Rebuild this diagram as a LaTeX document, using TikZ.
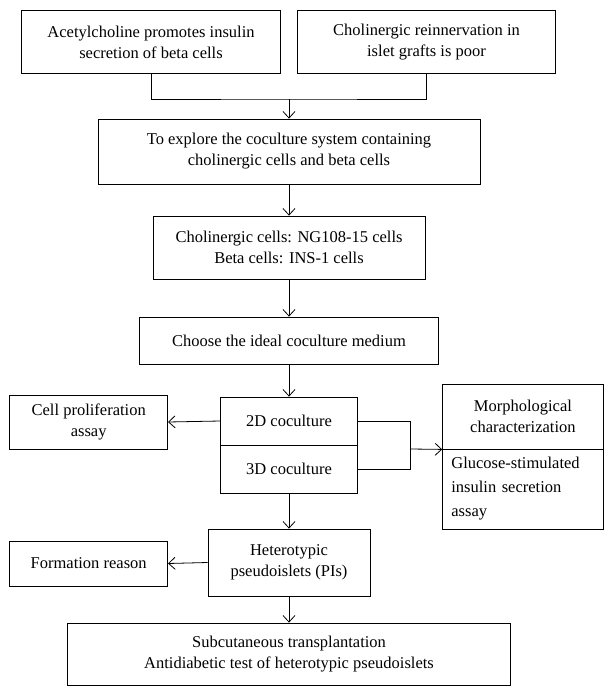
\documentclass[tikz,border=0pt]{standalone}
\usepackage{fontspec}
\setmainfont{Liberation Serif}
\usetikzlibrary{arrows.meta}
\begin{document}
\begin{tikzpicture}[x=1pt,y=-1pt,line width=0.8pt,
  box/.style={draw,align=center,inner sep=0pt,font=\fontsize{16.5}{21}\selectfont},
  arr/.style={-{Straight Barb[length=6.5pt,width=12pt]}}]
\useasboundingbox (0,0) rectangle (611,696);
% top row
\node[box,minimum width=259pt,minimum height=62.6pt] (ach) at (151,42) {Acetylcholine promotes insulin\\secretion of beta cells};
\node[box,minimum width=257.7pt,minimum height=62.6pt] (poor) at (426.5,42) {Cholinergic reinnervation in\\islet grafts is poor};
\coordinate (jn) at (289,99);
% main column
\node[box,minimum width=382pt,minimum height=65pt] (aim) at (289,151.5) {To explore the coculture system containing\\cholinergic cells and beta cells};
\node[box,minimum width=272pt,minimum height=63pt] (cells) at (289,247.5) {Cholinergic cells: NG108-15 cells\\Beta cells: INS-1 cells};
\node[box,minimum width=298.5pt,minimum height=47pt] (medium) at (289,340.5) {Choose the ideal coculture medium};
\node[box,minimum width=136.7pt,minimum height=48pt] (twoD) at (289,421) {2D coculture};
\node[box,minimum width=136.7pt,minimum height=48pt] (threeD) at (289,469) {3D coculture};
\node[box,minimum width=162pt,minimum height=67pt] (pis) at (289,562.5) {Heterotypic\\pseudoislets (PIs)};
\node[box,minimum width=443.4pt,minimum height=62pt] (transp) at (289,654) {Subcutaneous transplantation\\Antidiabetic test of heterotypic pseudoislets};
% side boxes
\node[box,minimum width=157.8pt,minimum height=54pt] (prolif) at (88.7,422) {Cell proliferation\\assay};
\node[box,minimum width=157.8pt,minimum height=45pt] (reason) at (88.7,563.5) {Formation reason};
\node[box,minimum width=160.6pt,minimum height=65pt] (morph) at (522.9,416.5) {Morphological\\characterization};
\node[box,minimum width=160.6pt,minimum height=80pt,align=left,text width=143pt,font=\fontsize{16.5}{24}\selectfont] (gsis) at (522.9,489) {Glucose-stimulated\\insulin secretion\\assay};
\coordinate (mg) at (410.5,449);
% connectors
\draw (ach.south) |- (jn) -| (poor.south);
\draw[arr] (jn) -- (aim.north);
\draw[arr] (aim.south) -- (cells.north);
\draw[arr] (cells.south) -- (medium.north);
\draw[arr] (medium.south) -- (twoD.north);
\draw[arr] (twoD.west) -- (prolif.east);
\draw (twoD.east) -| (mg);
\draw (threeD.east) -| (mg);
\draw[arr] (mg) -- (morph.south west);
\draw[arr] (threeD.south) -- (pis.north);
\draw[arr] (pis.west) -- (reason.east);
\draw[arr] (pis.south) -- (transp.north);
\end{tikzpicture}
\end{document}
